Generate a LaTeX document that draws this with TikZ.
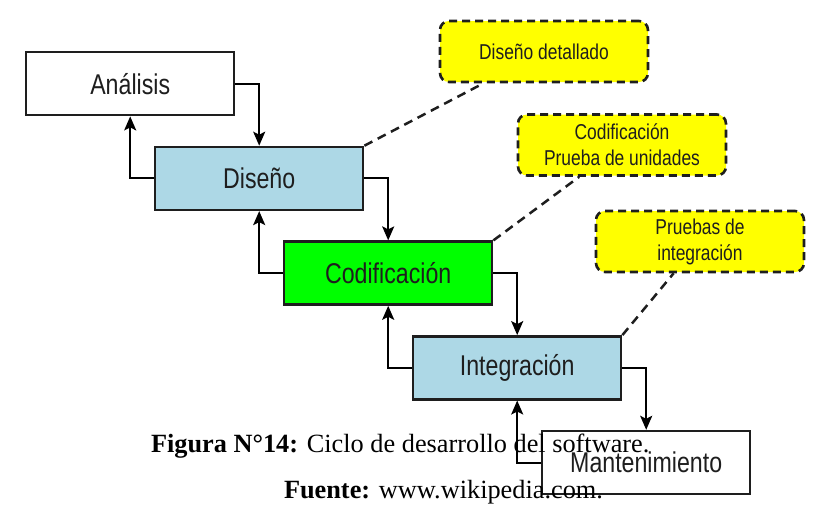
\documentclass[tikz,border=0pt]{standalone}
\usepackage{fontspec}
\setmainfont{Liberation Serif}
\newfontfamily\cajafont{Liberation Sans}[FakeStretch=0.81]
\usetikzlibrary{arrows.meta,positioning}

\definecolor{celeste}{HTML}{ADD8E6}
\definecolor{verde}{HTML}{00FF00}
\definecolor{amarillo}{HTML}{FFFF00}
\definecolor{borde}{HTML}{1E1E1E}

\begin{document}
\begin{tikzpicture}[x=1pt,y=-1pt,>={Stealth[length=14pt,width=12pt,inset=3pt]},line width=2pt,node distance=29.3pt and -81.4pt]
  \tikzstyle{fase}=[draw=borde,line width=2.4pt,minimum width=208pt,minimum height=63pt,inner sep=0pt,
                    font=\cajafont\fontsize{28.6}{30}\selectfont,text=borde]
  \tikzstyle{nota}=[draw=borde,fill=amarillo,line width=2.6pt,dash pattern=on 8pt off 5pt,rounded corners=9pt,
                    minimum width=208pt,minimum height=61pt,inner sep=0pt,align=center,
                    font=\cajafont\fontsize{21.5}{26}\selectfont,text=borde]
  \tikzstyle{liga}=[draw=borde,line width=2.5pt,dash pattern=on 9pt off 6pt]
  \useasboundingbox (0,0) rectangle (819,506);

  \node[fase,fill=white,anchor=north west] (ana) at (25,51) {Análisis};
  \node[fase,fill=celeste]  (dis) [below right=of ana] {Diseño};
  \node[fase,fill=verde]    (cod) [below right=of dis] {Codificación};
  \node[fase,fill=celeste]  (int) [below right=of cod] {Integración};
  \node[fase,fill=white]    (man) [below right=of int] {Mantenimiento};

  \node[nota] (dd)  at (544,51.5) {Diseño detallado};
  \node[nota] (cpu) at (622,145)  {Codificación\\Prueba de unidades};
  \node[nota] (pin) at (700,241.5) {Pruebas de\\integración};

  % hacia abajo
  \draw[->] (ana.east) -| (dis.north);
  \draw[->] (dis.east) -| (cod.north);
  \draw[->] (cod.east) -| (int.north);
  \draw[->] (int.east) -| (man.north);
  % retorno
  \draw[->] (dis.west) -| (ana.south);
  \draw[->] (cod.west) -| (dis.south);
  \draw[->] (int.west) -| (cod.south);
  \draw[->] (man.west) -| (int.south);

  \draw[liga] (dis.north east) -- (dd);
  \draw[liga] (cod.north east) -- (cpu);
  \draw[liga] (int.north east) -- (pin);

  \node[anchor=base west,inner sep=0pt,font=\fontsize{26.3}{30}\selectfont] (fig) at (150,452)
    {\textbf{Figura N°14:} Ciclo de desarrollo del software.};
  \node[anchor=base west,inner sep=0pt,font=\fontsize{26.3}{30}\selectfont] (fte) at (283,498)
    {\textbf{Fuente:} www.wikipedia.com.};
\end{tikzpicture}
\end{document}
